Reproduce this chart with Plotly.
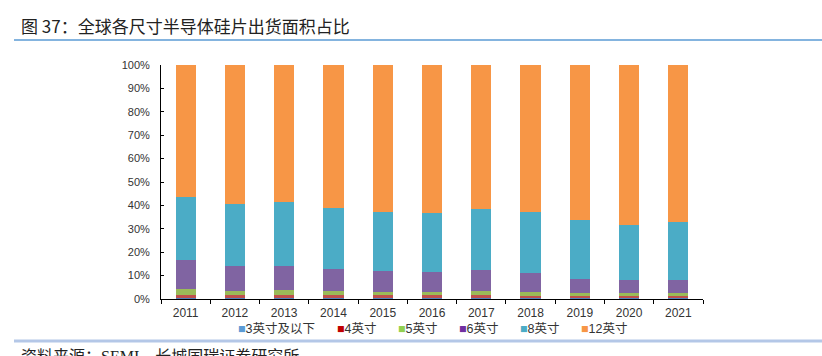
import plotly.graph_objects as go

years = ["2011", "2012", "2013", "2014", "2015", "2016", "2017", "2018", "2019", "2020", "2021"]
s3 = [0.5, 0.5, 0.5, 0.5, 0.4, 0.4, 0.4, 0.4, 0.3, 0.3, 0.3]
s4 = [1.3, 1.2, 1.2, 1.1, 1.1, 1.1, 1.1, 1.0, 0.9, 0.9, 0.9]
s5 = [2.6, 1.9, 2.0, 1.8, 1.7, 1.7, 2.0, 1.7, 1.3, 1.2, 1.3]
s6 = [12.1, 10.4, 10.6, 9.6, 8.6, 8.2, 8.7, 8.2, 6.2, 5.6, 5.8]
s8 = [27.1, 26.8, 27.0, 25.7, 25.3, 25.3, 26.3, 25.9, 25.1, 23.8, 24.4]
s12 = [56.4, 59.2, 58.7, 61.3, 62.9, 63.3, 61.5, 62.8, 66.2, 68.2, 67.4]

series_names = ["3英寸及以下", "4英寸", "5英寸", "6英寸", "8英寸", "12英寸"]
series_vals = [s3, s4, s5, s6, s8, s12]
bar_colors = ["#4F81BD", "#C0504D", "#9BBB59", "#8064A2", "#4BACC6", "#F79646"]
legend_colors = ["#5B9BD5", "#C00000", "#92D050", "#7030A0", "#4BACC6", "#F79646"]
yticks = [0, 10, 20, 30, 40, 50, 60, 70, 80, 90, 100]
ytick_text = ["0%", "10%", "20%", "30%", "40%", "50%", "60%", "70%", "80%", "90%", "100%"]

title_text = "图 37：全球各尺寸半导体硅片出货面积占比"
source_text = "资料来源：SEMI，长城国瑞证券研究所"

fig = go.Figure()
for name, vals, c in zip(series_names, series_vals, bar_colors):
    fig.add_trace(go.Bar(x=years, y=vals, name=name, marker_color=c,
                         marker_line_width=0, showlegend=False))

W, H = 822, 356
L, R, T, B = 161, 119, 65, 56.5
pw, ph = W - L - R, H - T - B

def px_x(x):
    return (x - L) / pw

def px_y(y):
    return (H - B - y) / ph

font_main = "Liberation Sans, Arial, Noto Sans CJK SC, sans-serif"

# legend drawn as text entries (tight symbol/text spacing as in the reference)
legend_x_px = [236, 335, 396, 457, 518, 579]
annotations = []
for name, c, xp in zip(series_names, legend_colors, legend_x_px):
    annotations.append(dict(
        text=f"<span style='color:{c}'>■</span>{name}",
        xref="paper", yref="paper", x=px_x(xp), y=px_y(330),
        xanchor="left", yanchor="middle", showarrow=False,
        font=dict(size=12.5, color="#333333", family=font_main)))

annotations += [
    dict(text=title_text, xref="paper", yref="paper", x=px_x(19), y=px_y(25),
         xanchor="left", yanchor="middle", showarrow=False,
         font=dict(size=17, color="#222222", family="Noto Sans CJK SC, sans-serif")),
    dict(text=source_text, xref="paper", yref="paper", x=px_x(19), y=px_y(357),
         xanchor="left", yanchor="middle", showarrow=False,
         font=dict(size=16, color="#222222", family="Liberation Serif, Noto Sans CJK SC, serif")),
]

fig.update_layout(
    width=W, height=H,
    margin=dict(l=L, r=R, t=T, b=B),
    barmode="stack",
    bargap=0.59,
    plot_bgcolor="white",
    paper_bgcolor="white",
    font=dict(family=font_main, size=12, color="#333333"),
    showlegend=False,
    xaxis=dict(showline=True, linecolor="#000000", linewidth=1,
               ticks="outside", tickson="boundaries", ticklen=4, tickcolor="#000000",
               tickfont=dict(size=12, color="#333333"), showgrid=False,
               ticklabelstandoff=3, fixedrange=True),
    yaxis=dict(range=[0, 100], tickvals=yticks, ticktext=ytick_text,
               showline=True, linecolor="#000000", linewidth=1,
               ticks="inside", ticklen=3, tickcolor="#000000",
               tickfont=dict(size=11, color="#333333"), showgrid=False,
               zeroline=False, ticklabelstandoff=8, fixedrange=True),
    shapes=[
        dict(type="line", xref="paper", yref="paper", x0=px_x(14), x1=px_x(822),
             y0=px_y(40), y1=px_y(40), line=dict(color="#5B9BD5", width=1.5)),
        dict(type="line", xref="paper", yref="paper", x0=px_x(14), x1=px_x(822),
             y0=px_y(341.5), y1=px_y(341.5), line=dict(color="#B4C7E7", width=3)),
    ],
    annotations=annotations,
)

fig.write_html("out.html", config={"displayModeBar": False},
               post_script="document.body.style.margin='0';document.body.style.overflow='hidden';")
